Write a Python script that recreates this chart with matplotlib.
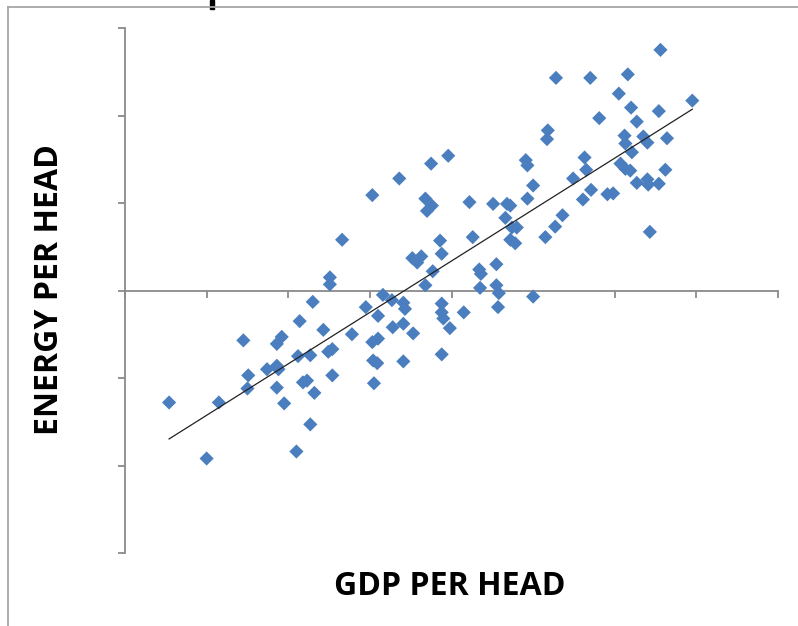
"""Scatter of energy use against GDP per head, with a linear trend line."""

import matplotlib
matplotlib.use('Agg')
import matplotlib.pyplot as plt
import numpy as np
from matplotlib.lines import Line2D
from matplotlib.patches import Rectangle

# Values (axis units: one tick step = 1).
gdp = [
    6.56, 5.28, 5.70, 6.16, 6.95, 6.05, 6.20, 6.54, 5.81, 6.27,
    5.18, 5.17, 6.12, 6.35, 6.13, 6.40, 6.64, 6.21, 3.96, 5.63,
    4.91, 4.93, 5.65, 5.49, 6.07, 6.13, 6.19, 6.62, 6.27, 6.40,
    6.41, 6.54, 5.00, 5.71, 4.93, 5.61, 5.91, 5.98, 4.22, 4.51,
    4.68, 4.72, 4.66, 5.36, 5.27, 4.74, 4.80, 6.43, 4.26, 4.72,
    4.78, 5.15, 3.86, 3.88, 4.34, 4.36, 4.55, 4.35, 4.55, 4.58,
    5.00, 3.75, 3.36, 3.03, 2.66, 3.68, 3.76, 3.70, 3.58, 3.52,
    3.63, 3.77, 3.68, 2.51, 2.51, 2.30, 3.16, 3.27, 3.41, 3.43,
    2.95, 3.88, 3.88, 3.90, 3.98, 2.14, 2.43, 3.10, 3.28, 3.41,
    3.53, 2.78, 1.45, 1.92, 1.86, 4.57, 4.15, 3.03, 3.10, 2.12,
    2.27, 2.49, 2.54, 3.04, 3.09, 3.41, 3.88, 1.51, 1.74, 1.86,
    1.88, 2.18, 2.23, 2.32, 2.54, 3.05, 1.50, 1.86, 0.54, 1.15,
    1.95, 2.27, 2.10, 1.00,
]
energy = [
    2.75, 2.43, 2.43, 2.47, 2.17, 2.25, 2.09, 2.05, 1.97, 1.93,
    1.83, 1.73, 1.77, 1.76, 1.68, 1.69, 1.74, 1.58, 1.54, 1.52,
    1.49, 1.43, 1.38, 1.28, 1.45, 1.39, 1.37, 1.38, 1.23, 1.27,
    1.21, 1.22, 1.20, 1.15, 1.05, 1.04, 1.10, 1.11, 1.01, 0.99,
    0.99, 0.97, 0.83, 0.86, 0.73, 0.72, 0.72, 0.67, 0.61, 0.58,
    0.54, 0.61, 0.57, 0.42, 0.24, 0.19, 0.30, 0.03, 0.06, -0.03,
    -0.07, 1.45, 1.28, 1.09, 0.58, 1.05, 0.97, 0.91, 0.32, 0.37,
    0.39, 0.22, 0.06, 0.15, 0.07, -0.13, -0.05, -0.11, -0.14, -0.21,
    -0.19, -0.15, -0.25, -0.32, -0.43, -0.35, -0.45, -0.29, -0.42, -0.38,
    -0.49, -0.50, -0.57, -0.53, -0.61, -0.19, -0.25, -0.59, -0.55, -0.75,
    -0.74, -0.70, -0.67, -0.80, -0.83, -0.81, -0.73, -0.97, -0.90, -0.86,
    -0.90, -1.05, -1.03, -1.17, -0.97, -1.06, -1.12, -1.11, -1.28, -1.28,
    -1.29, -1.53, -1.84, -1.92,
]
x_ticks = [0, 1, 2, 3, 4, 5, 6, 7, 8]
y_ticks = [-3, -2, -1, 0, 1, 2, 3]

AXIS_GREY = '#8a8a8a'
MARKER_BLUE = '#4a7ebf'

fig = plt.figure(figsize=(7.98, 6.26), dpi=100)
ax = fig.add_axes([125 / 798, 73 / 626, 653 / 798, 525 / 626])

ax.scatter(gdp, energy, marker='D', s=52, color=MARKER_BLUE,
           edgecolors='none', zorder=3)

# Excel-style linear trendline over the data range.
slope, intercept = np.polyfit(gdp, energy, 1)
line_x = np.array([min(gdp), max(gdp)])
ax.plot(line_x, slope * line_x + intercept, color='#222222', linewidth=0.9,
        zorder=4)

ax.set_xlim(x_ticks[0], x_ticks[-1])
ax.set_ylim(y_ticks[0], y_ticks[-1])
ax.set_xticks(x_ticks)
ax.set_yticks(y_ticks)
ax.set_xticklabels([])
ax.set_yticklabels([])
ax.spines['top'].set_visible(False)
ax.spines['right'].set_visible(False)
ax.spines['bottom'].set_position(('data', 0))
for side in ('left', 'bottom'):
    ax.spines[side].set_color(AXIS_GREY)
    ax.spines[side].set_linewidth(1.3)
ax.tick_params(axis='both', direction='out', length=5, width=1.3,
               color=AXIS_GREY)
ax.patch.set_alpha(0)

label_font = dict(family=['Open Sans', 'DejaVu Sans'], weight='bold',
                  fontsize=23, color='black')
fig.text(450 / 798, 1 - 595 / 626, 'GDP PER HEAD', ha='center',
         va='baseline', **label_font)
fig.text(50 / 798, 1 - 290 / 626, 'ENERGY PER HEAD', rotation=90,
         ha='center', va='center', **label_font)

# Chart-area frame, cut off at the right and bottom of the picture.
fig.add_artist(Line2D([8 / 798, 1], [1 - 7 / 626] * 2, color='#a6a6a6',
                      linewidth=1.3, transform=fig.transFigure))
fig.add_artist(Line2D([8 / 798] * 2, [0, 1 - 7 / 626], color='#a6a6a6',
                      linewidth=1.3, transform=fig.transFigure))
# Remnant of the clipped title above the frame.
fig.add_artist(Rectangle((210 / 798, 1 - 9 / 626), 4 / 798, 9 / 626,
                         color='black', transform=fig.transFigure))

fig.savefig('out.png', dpi=100)
